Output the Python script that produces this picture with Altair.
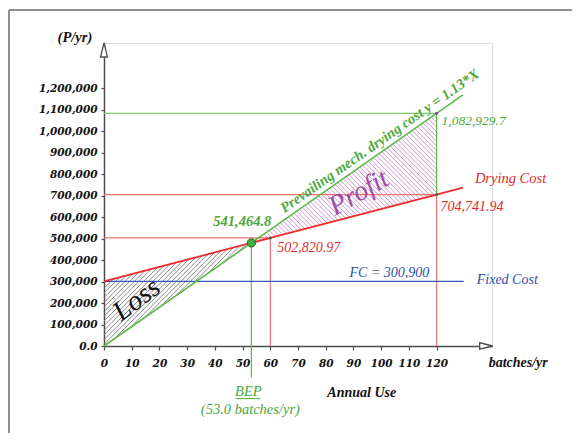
import math
import altair as alt
import pandas as pd

# ---------------- data ----------------
x_ticks = list(range(0, 130, 10))
y_ticks = list(range(0, 1300000, 100000))

units = [0, 60, 120, 129.5]                                  # batches/yr
prevailing = [0, 541464.8, 1082929.7, 1168700]               # y = 1.13*X line
drying_cost = [300900, 502820.97, 704741.94, 736700]         # drying cost line
fixed_cost = 300900
fc_end = 129.8
bep_x = 53.17
bep_y = 479840

# ---------------- scales ----------------
W, H = 388, 303
X_MAX, Y_MAX = 140, 1410000
xs = alt.Scale(domain=[0, X_MAX], nice=False, zero=False)
ys = alt.Scale(domain=[0, Y_MAX], nice=False, zero=False)

GREEN = "#5DB947"
GREEN_L = "#7CC86A"
RED = "#EE2A2A"
RED_L = "#F27070"
BLUE = "#3457BB"
GREEN_T = "#4BA83A"
RED_T = "#E52B2B"
BLUE_T = "#2D4DA8"
AX = "#4d4d4d"
SERIF = "Liberation Serif"

x_axis = alt.Axis(values=x_ticks, title=None, grid=False, domainColor=AX, domainWidth=1.5,
                  tickColor=AX, tickSize=4, tickWidth=1.2, labelFont="DejaVu Serif",
                  labelFontStyle="italic", labelFontWeight="bold", labelFontSize=10.5,
                  labelColor="#111", labelPadding=8, labelFlush=False, labelOverlap=False)
y_axis = alt.Axis(values=y_ticks, title=None, grid=False, domainColor=AX, domainWidth=1.5,
                  tickColor=AX, tickSize=3, tickWidth=1.2, labelFont="DejaVu Serif",
                  labelFontStyle="italic", labelFontWeight="bold", labelFontSize=10.5,
                  labelColor="#111", labelPadding=4, labelFlush=False, labelOverlap=False,
                  labelExpr="datum.value == 0 ? '0.0' : format(datum.value, ',')")


def X(field="x"):
    return alt.X(field, type="quantitative", scale=xs, axis=x_axis)


def Y(field="y"):
    return alt.Y(field, type="quantitative", scale=ys, axis=y_axis)


def hatch(poly, rising, spacing=3.3):
    """Diagonal hatch segments (45 deg on screen) clipped to a convex polygon given in data units."""
    kx, ky = W / X_MAX, H / Y_MAX
    pts = [(x * kx, y * ky) for x, y in poly]
    n = (1 / math.sqrt(2), -1 / math.sqrt(2)) if rising else (1 / math.sqrt(2), 1 / math.sqrt(2))
    proj = [n[0] * p[0] + n[1] * p[1] for p in pts]
    lo, hi = min(proj), max(proj)
    rows = []
    c = lo + spacing / 2
    while c < hi:
        hits = []
        for i in range(len(pts)):
            a, b = pts[i], pts[(i + 1) % len(pts)]
            da, db = proj[i] - c, proj[(i + 1) % len(pts)] - c
            if da * db < 0:
                t = da / (da - db)
                hits.append((a[0] + (b[0] - a[0]) * t, a[1] + (b[1] - a[1]) * t))
        if len(hits) == 2:
            rows.append({"x": hits[0][0] / kx, "y": hits[0][1] / ky,
                         "x2": hits[1][0] / kx, "y2": hits[1][1] / ky})
        c += spacing
    return pd.DataFrame(rows)


dummy = pd.DataFrame({"a": [0]})

# frame (page border)
border_top = alt.Chart(dummy).mark_rule(color="#8f8f8f", strokeWidth=2).encode(
    x=alt.value(-95), x2=alt.value(470), y=alt.value(-33))
border_left = alt.Chart(dummy).mark_rule(color="#8f8f8f", strokeWidth=2).encode(
    x=alt.value(-95), y=alt.value(-33), y2=alt.value(392))

# hatched regions
loss_poly = [(0, prevailing[0]), (0, drying_cost[0]), (bep_x, bep_y)]
profit_poly = [(bep_x, bep_y), (120, prevailing[2]), (120, drying_cost[2])]
loss = alt.Chart(hatch(loss_poly, True)).mark_rule(color="#7a7a7a", strokeWidth=0.9).encode(
    x=X("x"), x2="x2", y=Y("y"), y2="y2")
profit = alt.Chart(hatch(profit_poly, False)).mark_rule(color="#C88ACD", strokeWidth=0.9).encode(
    x=X("x"), x2="x2", y=Y("y"), y2="y2")

# reference lines
ref_df = pd.DataFrame([
    {"x": 0, "x2": 120, "y": 1082929.7, "y2": 1082929.7, "c": GREEN_L},
    {"x": 0, "x2": 120, "y": 704741.94, "y2": 704741.94, "c": RED_L},
    {"x": 0, "x2": 60, "y": 502820.97, "y2": 502820.97, "c": RED_L},
    {"x": 60, "x2": 60, "y": 0, "y2": 502820.97, "c": RED_L},
    {"x": 120, "x2": 120, "y": 0, "y2": 704741.94, "c": RED_L},
    {"x": 120, "x2": 120, "y": 704741.94, "y2": 1082929.7, "c": GREEN},
    {"x": bep_x, "x2": bep_x, "y": -145000, "y2": bep_y, "c": GREEN},
    {"x": 0, "x2": fc_end, "y": fixed_cost, "y2": fixed_cost, "c": BLUE},
])
refs = alt.Chart(ref_df).mark_rule(strokeWidth=1.2).encode(
    x=X("x"), x2="x2", y=Y("y"), y2="y2", color=alt.Color("c:N", scale=None))

# main lines
lines_df = pd.DataFrame({"x": units, "prev": prevailing, "dry": drying_cost})
prev_line = alt.Chart(lines_df).mark_line(color=GREEN, strokeWidth=1.6).encode(x=X("x"), y=Y("prev"))
dry_line = alt.Chart(lines_df).mark_line(color=RED, strokeWidth=1.8).encode(x=X("x"), y=Y("dry"))

# points
bep = alt.Chart(pd.DataFrame({"x": [bep_x], "y": [bep_y]})).mark_point(
    filled=True, size=70, color="#3FAF3F", stroke="#1f6f2f", strokeWidth=1, opacity=1).encode(x=X("x"), y=Y("y"))
dots = alt.Chart(pd.DataFrame({"x": [60, 120, 120], "y": [502820.97, 704741.94, 1082929.7],
                               "c": ["#2f6f5f", "#2f6f5f", "#9040a0"]})).mark_point(
    filled=True, size=9, opacity=1).encode(x=X("x"), y=Y("y"), color=alt.Color("c:N", scale=None))

# axis arrowheads
arrow_x = alt.Chart(pd.DataFrame({"x": [137.9], "y": [0]})).mark_point(
    shape="M -1 -0.5 L 1 0 L -1 0.5 Z", size=169, filled=True, fill="white", stroke=AX,
    strokeWidth=1.3, opacity=1).encode(x=X("x"), y=Y("y"))
arrow_y = alt.Chart(pd.DataFrame({"x": [0], "y": [1377400]})).mark_point(
    shape="M -0.5 1 L 0 -1 L 0.5 1 Z", size=196, filled=True, fill="white", stroke=AX,
    strokeWidth=1.3, opacity=1).encode(x=X("x"), y=Y("y"))

# bep underline
bep_ul = alt.Chart(pd.DataFrame({"x": [47.5], "x2": [56.3], "y": [-245000]})).mark_rule(
    color=GREEN_T, strokeWidth=1).encode(x=X("x"), x2="x2", y=Y("y"))


def label(x, y, text, color="#111", size=13, align="left", baseline="middle", angle=0,
          weight="normal", style="italic", dx=0, dy=0, font=SERIF):
    kw = dict(text=text, color=color, fontSize=size, align=align, baseline=baseline,
              fontWeight=weight, fontStyle=style, font=font, dx=dx, dy=dy)
    if angle:
        kw["angle"] = angle
    return alt.Chart(pd.DataFrame({"x": [x], "y": [y]})).mark_text(**kw).encode(x=X("x"), y=Y("y"))


texts = [
    label(-10.5, 1433000, "(P/yr)", size=14.5, align="center", weight="bold"),
    label(120, 1082929.7, "1,082,929.7", GREEN_T, 13.5, dx=5, dy=8),
    label(120, 704741.94, "704,741.94", RED_T, 14, dx=4, dy=12),
    label(60, 502820.97, "502,820.97", RED_T, 14, dx=7, dy=10),
    label(60, 541464.8, "541,464.8", GREEN_T, 14.5, align="right", dx=1, dy=-8, weight="bold"),
    label(103, 340000, "FC = 300,900", BLUE_T, 14, align="center"),
    label(fc_end, fixed_cost, "Fixed Cost", BLUE_T, 14, dx=13, dy=-1),
    label(units[3], drying_cost[3], "Drying Cost", RED_T, 14.5, dx=12, dy=-9),
    label(bep_x, 0, "BEP", GREEN_T, 14.5, align="center", dx=-3, dy=46),
    label(bep_x, 0, "(53.0 batches/yr)", GREEN_T, 14.5, align="center", dx=-1, dy=64),
    label(93, -219000, "Annual Use", "#111", 14, align="center", weight="bold"),
    label(138.8, -79000, "batches/yr", "#111", 14, weight="bold"),
    label(99.6, 952000, "Prevailing mech. drying cost  y = 1.13*X", GREEN_T, 14.5,
          align="center", angle=325, weight="bold"),
    label(92.0, 712000, "Profit", "#9A4FA4", 28, align="center", angle=330),
    label(11.9, 214000, "Loss", "#111", 28, align="center", angle=323),
]

chart = alt.layer(
    loss, profit, border_top, border_left, refs, prev_line, dry_line, bep, dots,
    arrow_x, arrow_y, bep_ul, *texts
).properties(
    width=W, height=H,
    autosize=alt.AutoSizeParams(type="none"),
    padding={"left": 96, "top": 35, "right": 80, "bottom": 87},
).configure_view(stroke=None).configure(background="white")

chart.save("out.html", embed_options={"renderer": "svg", "actions": False})
